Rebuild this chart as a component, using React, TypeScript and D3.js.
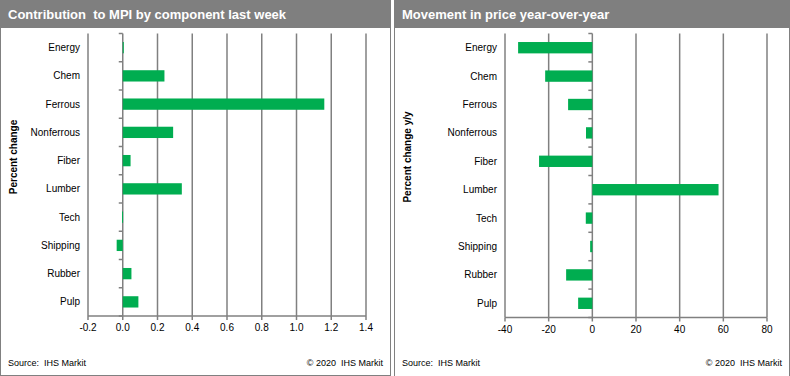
import React from "react";
import * as d3 from "d3";

const categories = ["Energy", "Chem", "Ferrous", "Nonferrous", "Fiber", "Lumber", "Tech", "Shipping", "Rubber", "Pulp"];
const contribution = [0.006, 0.24, 1.16, 0.29, 0.045, 0.34, -0.004, -0.035, 0.05, 0.09];
const yoyMovement = [-34, -21.6, -11.1, -2.9, -24.4, 57.8, -3, -1, -12, -6.5];
const leftTicks = [-0.2, 0, 0.2, 0.4, 0.6, 0.8, 1.0, 1.2, 1.4];
const rightTicks = [-40, -20, 0, 20, 40, 60, 80];
const leftTitle = "Contribution  to MPI by component last week";
const rightTitle = "Movement in price year-over-year";
const leftYTitle = "Percent change";
const rightYTitle = "Percent change y/y";
const sourceText = "Source:  IHS Markit";
const copyText = "\u00a9 2020  IHS Markit";

const GRAY = "#808080";
const GREEN = "#00ad50";
const FONT = "'Liberation Sans', Arial, sans-serif";

type PanelProps = {
  x0: number; width: number; title: string; yTitle: string;
  values: number[]; ticks: number[]; fmt: (v: number) => string;
  plotLeft: number; plotRight: number; plotTop: number; plotBottom: number;
  yTitleY: number; bottomBorder: boolean;
};

function Panel(p: PanelProps) {
  const x = d3.scaleLinear().domain([p.ticks[0], p.ticks[p.ticks.length - 1]]).range([p.plotLeft, p.plotRight]);
  const y = d3.scaleBand().domain(categories).range([p.plotTop, p.plotBottom]).paddingInner(0.6).paddingOuter(0.3);
  const x0 = x(0);
  const boundaries = d3.range(categories.length + 1).map((i) => p.plotTop + i * ((p.plotBottom - p.plotTop) / categories.length));
  return (
    <g transform={`translate(${p.x0},0)`}>
      <rect x={0} y={0} width={p.width} height={28} fill="#7f7f7f" />
      <text x={8} y={19} fill="#fff" fontSize={13} fontWeight="bold" fontFamily={FONT} style={{ whiteSpace: "pre" }}>{p.title}</text>
      <line x1={0.5} y1={28} x2={0.5} y2={p.bottomBorder ? 375.5 : 376} stroke={GRAY} />
      <line x1={p.width - 0.5} y1={28} x2={p.width - 0.5} y2={p.bottomBorder ? 375.5 : 376} stroke={GRAY} />
      {p.bottomBorder && <line x1={0} y1={375.5} x2={p.width} y2={375.5} stroke={GRAY} />}
      {p.ticks.map((t) => (
        <line key={t} x1={x(t)} x2={x(t)} y1={p.plotTop} y2={p.plotBottom} stroke={GRAY} strokeWidth={1.5} />
      ))}
      {p.values.map((v, i) => {
        const bx = Math.min(x(v), x0);
        const w = Math.max(Math.abs(x(v) - x0), 1);
        return <rect key={i} x={bx} y={y(categories[i])!} width={w} height={y.bandwidth()} fill={GREEN} />;
      })}
      {boundaries.map((b, i) => (
        <line key={i} x1={x0 - 4} x2={x0} y1={b} y2={b} stroke={GRAY} strokeWidth={1.5} />
      ))}
      <line x1={p.plotLeft} x2={p.plotRight} y1={p.plotBottom} y2={p.plotBottom} stroke={GRAY} strokeWidth={1.5} />
      {p.ticks.map((t) => (
        <g key={t}>
          <line x1={x(t)} x2={x(t)} y1={p.plotBottom} y2={p.plotBottom + 4} stroke={GRAY} strokeWidth={1.5} />
          <text x={x(t)} y={p.plotBottom + 15} textAnchor="middle" fontSize={10} fontFamily={FONT} fill="#000">{p.fmt(t)}</text>
        </g>
      ))}
      {categories.map((c) => (
        <text key={c} x={p.plotLeft - 8} y={y(c)! + y.bandwidth() / 2 + 3.5} textAnchor="end" fontSize={10} fontFamily={FONT} fill="#000">{c}</text>
      ))}
      <text transform={`translate(17,${p.yTitleY}) rotate(-90)`} textAnchor="middle" fontSize={10} fontWeight="bold" fontFamily={FONT} fill="#000">{p.yTitle}</text>
      <text x={8} y={366} fontSize={9} fontFamily={FONT} fill="#000" style={{ whiteSpace: "pre" }}>{sourceText}</text>
      <text x={p.width - 8} y={366} textAnchor="end" fontSize={9} fontFamily={FONT} fill="#000" style={{ whiteSpace: "pre" }}>{copyText}</text>
    </g>
  );
}

const hyphen = (s: string) => s.replace("\u2212", "-");

export default function App() {
  return (
    <svg width={790} height={376} style={{ position: "absolute", left: 0, top: 0, background: "#fff" }}>
      <rect width={790} height={376} fill="#fff" />
      <Panel x0={0} width={391} title={leftTitle} yTitle={leftYTitle} values={contribution} ticks={leftTicks}
        fmt={(v) => hyphen(d3.format(".1f")(v))} plotLeft={88} plotRight={366} plotTop={33.5} plotBottom={316}
        yTitleY={157} bottomBorder={true} />
      <Panel x0={394} width={396} title={rightTitle} yTitle={rightYTitle} values={yoyMovement} ticks={rightTicks}
        fmt={(v) => hyphen(d3.format("d")(v))} plotLeft={111} plotRight={373} plotTop={33.5} plotBottom={317.5}
        yTitleY={157} bottomBorder={false} />
    </svg>
  );
}
